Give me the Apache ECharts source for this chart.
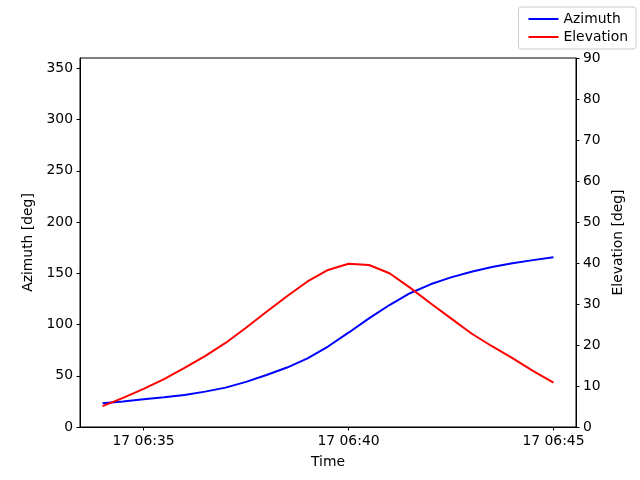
<!DOCTYPE html>
<html lang="en">
  <head>
    <meta charset="UTF-8" />
    <title>Azimuth / Elevation</title>
    <script src="https://cdn.jsdelivr.net/npm/echarts@6/dist/echarts.min.js"></script>
    <style>
      html, body { margin: 0; padding: 0; background: #fff; }
      #chart { width: 640px; height: 480px; }
    </style>
  </head>
  <body>
    <div id="chart"></div>
    <script>
      // pass times (day 17), every 30 s
      const times = [
        "06:34:00", "06:34:30", "06:35:00", "06:35:30", "06:36:00", "06:36:30",
        "06:37:00", "06:37:30", "06:38:00", "06:38:30", "06:39:00", "06:39:30",
        "06:40:00", "06:40:30", "06:41:00", "06:41:30", "06:42:00", "06:42:30",
        "06:43:00", "06:43:30", "06:44:00", "06:44:30", "06:45:00"
      ];
      const azimuth = [
        23.1, 24.8, 27.0, 29.0, 31.2, 34.5, 38.4, 44.0, 50.7, 58.0, 67.0, 78.5,
        92.0, 106.0, 119.0, 130.5, 139.2, 146.0, 151.5, 156.0, 159.7, 162.8, 165.5
      ];
      const elevation = [
        5.1, 7.1, 9.3, 11.7, 14.4, 17.3, 20.5, 24.2, 28.1, 31.9, 35.5, 38.3,
        39.8, 39.5, 37.5, 34.0, 30.2, 26.5, 22.8, 19.7, 16.8, 13.7, 10.8
      ];
      const timeTicks = ["06:35:00", "06:40:00", "06:45:00"];
      const day = 17;
      const azTicks = [0, 50, 100, 150, 200, 250, 300, 350];
      const elTicks = [0, 10, 20, 30, 40, 50, 60, 70, 80, 90];

      // minutes since midnight
      function toMin(s) {
        const p = s.split(":").map(Number);
        return p[0] * 60 + p[1] + p[2] / 60;
      }
      function pad(n) { return (n < 10 ? "0" : "") + n; }

      const t = times.map(toMin);
      const tt = timeTicks.map(toMin);
      const span = t[t.length - 1] - t[0];
      const font = "DejaVu Sans";
      const fs = 13.9;

      let chart = echarts.init(document.getElementById("chart"), null, { renderer: "canvas" });

      chart.setOption({
        animation: false,
        backgroundColor: "#fff",
        textStyle: { fontFamily: font, color: "#000" },
        grid: {
          left: 80, right: 64, top: 58, bottom: 53,
          show: true, borderColor: "#000", borderWidth: 1, backgroundColor: "transparent"
        },
        legend: {
          orient: "vertical",
          right: 4, top: 7,
          padding: [5, 8, 5, 10],
          itemGap: 4,
          itemWidth: 30, itemHeight: 14,
          backgroundColor: "#fff",
          borderColor: "#cccccc", borderWidth: 1, borderRadius: 3,
          textStyle: { fontFamily: font, fontSize: fs, color: "#000" },
          data: [
            { name: "Azimuth", icon: "path://M0,6L30,6L30,8L0,8Z", itemStyle: { color: "#0000ff" } },
            { name: "Elevation", icon: "path://M0,6L30,6L30,8L0,8Z", itemStyle: { color: "#ff0000" } }
          ]
        },
        xAxis: {
          type: "value",
          min: t[0] - span * 0.05,
          max: t[t.length - 1] + span * 0.05,
          name: "Time", nameLocation: "middle", nameGap: 28,
          nameTextStyle: { fontFamily: font, fontSize: fs, color: "#000" },
          axisLine: { show: true, onZero: false, lineStyle: { color: "#000", width: 1 } },
          axisTick: { show: true, length: 3.5, customValues: tt, lineStyle: { color: "#000" } },
          splitLine: { show: false },
          axisLabel: {
            margin: 7, fontFamily: font, fontSize: fs, color: "#000",
            customValues: tt,
            formatter: function (v) {
              const m = Math.round(v);
              return day + " " + pad(Math.floor(m / 60)) + ":" + pad(m % 60);
            }
          }
        },
        yAxis: [
          {
            type: "value",
            position: "left",
            min: 0, max: 360, interval: 50,
            name: "Azimuth [deg]", nameLocation: "middle", nameGap: 41, nameRotate: 90,
            nameTextStyle: { fontFamily: font, fontSize: fs, color: "#000" },
            axisLine: { show: true, lineStyle: { color: "#000", width: 1 } },
            axisTick: { show: true, length: 3.5, lineStyle: { color: "#000" } },
            splitLine: { show: false },
            axisLabel: {
              margin: 7, fontFamily: font, fontSize: fs, color: "#000",
              showMaxLabel: false,
              formatter: function (v) { return azTicks.indexOf(v) >= 0 ? String(v) : ""; }
            }
          },
          {
            type: "value",
            position: "right",
            min: 0, max: 90, interval: 10,
            name: "Elevation [deg]", nameLocation: "middle", nameGap: 29, nameRotate: 90,
            nameTextStyle: { fontFamily: font, fontSize: fs, color: "#000" },
            axisLine: { show: true, lineStyle: { color: "#000", width: 1 } },
            axisTick: { show: true, length: 3.5, lineStyle: { color: "#000" } },
            splitLine: { show: false },
            axisLabel: {
              margin: 7, fontFamily: font, fontSize: fs, color: "#000",
              formatter: function (v) { return elTicks.indexOf(v) >= 0 ? String(v) : ""; }
            }
          }
        ],
        series: [
          {
            name: "Azimuth",
            type: "line",
            yAxisIndex: 0,
            showSymbol: false,
            lineStyle: { color: "#0000ff", width: 2 },
            itemStyle: { color: "#0000ff" },
            data: t.map((x, i) => [x, azimuth[i]])
          },
          {
            name: "Elevation",
            type: "line",
            yAxisIndex: 1,
            showSymbol: false,
            lineStyle: { color: "#ff0000", width: 2 },
            itemStyle: { color: "#ff0000" },
            data: t.map((x, i) => [x, elevation[i]])
          }
        ]
      });
    </script>
  </body>
</html>
